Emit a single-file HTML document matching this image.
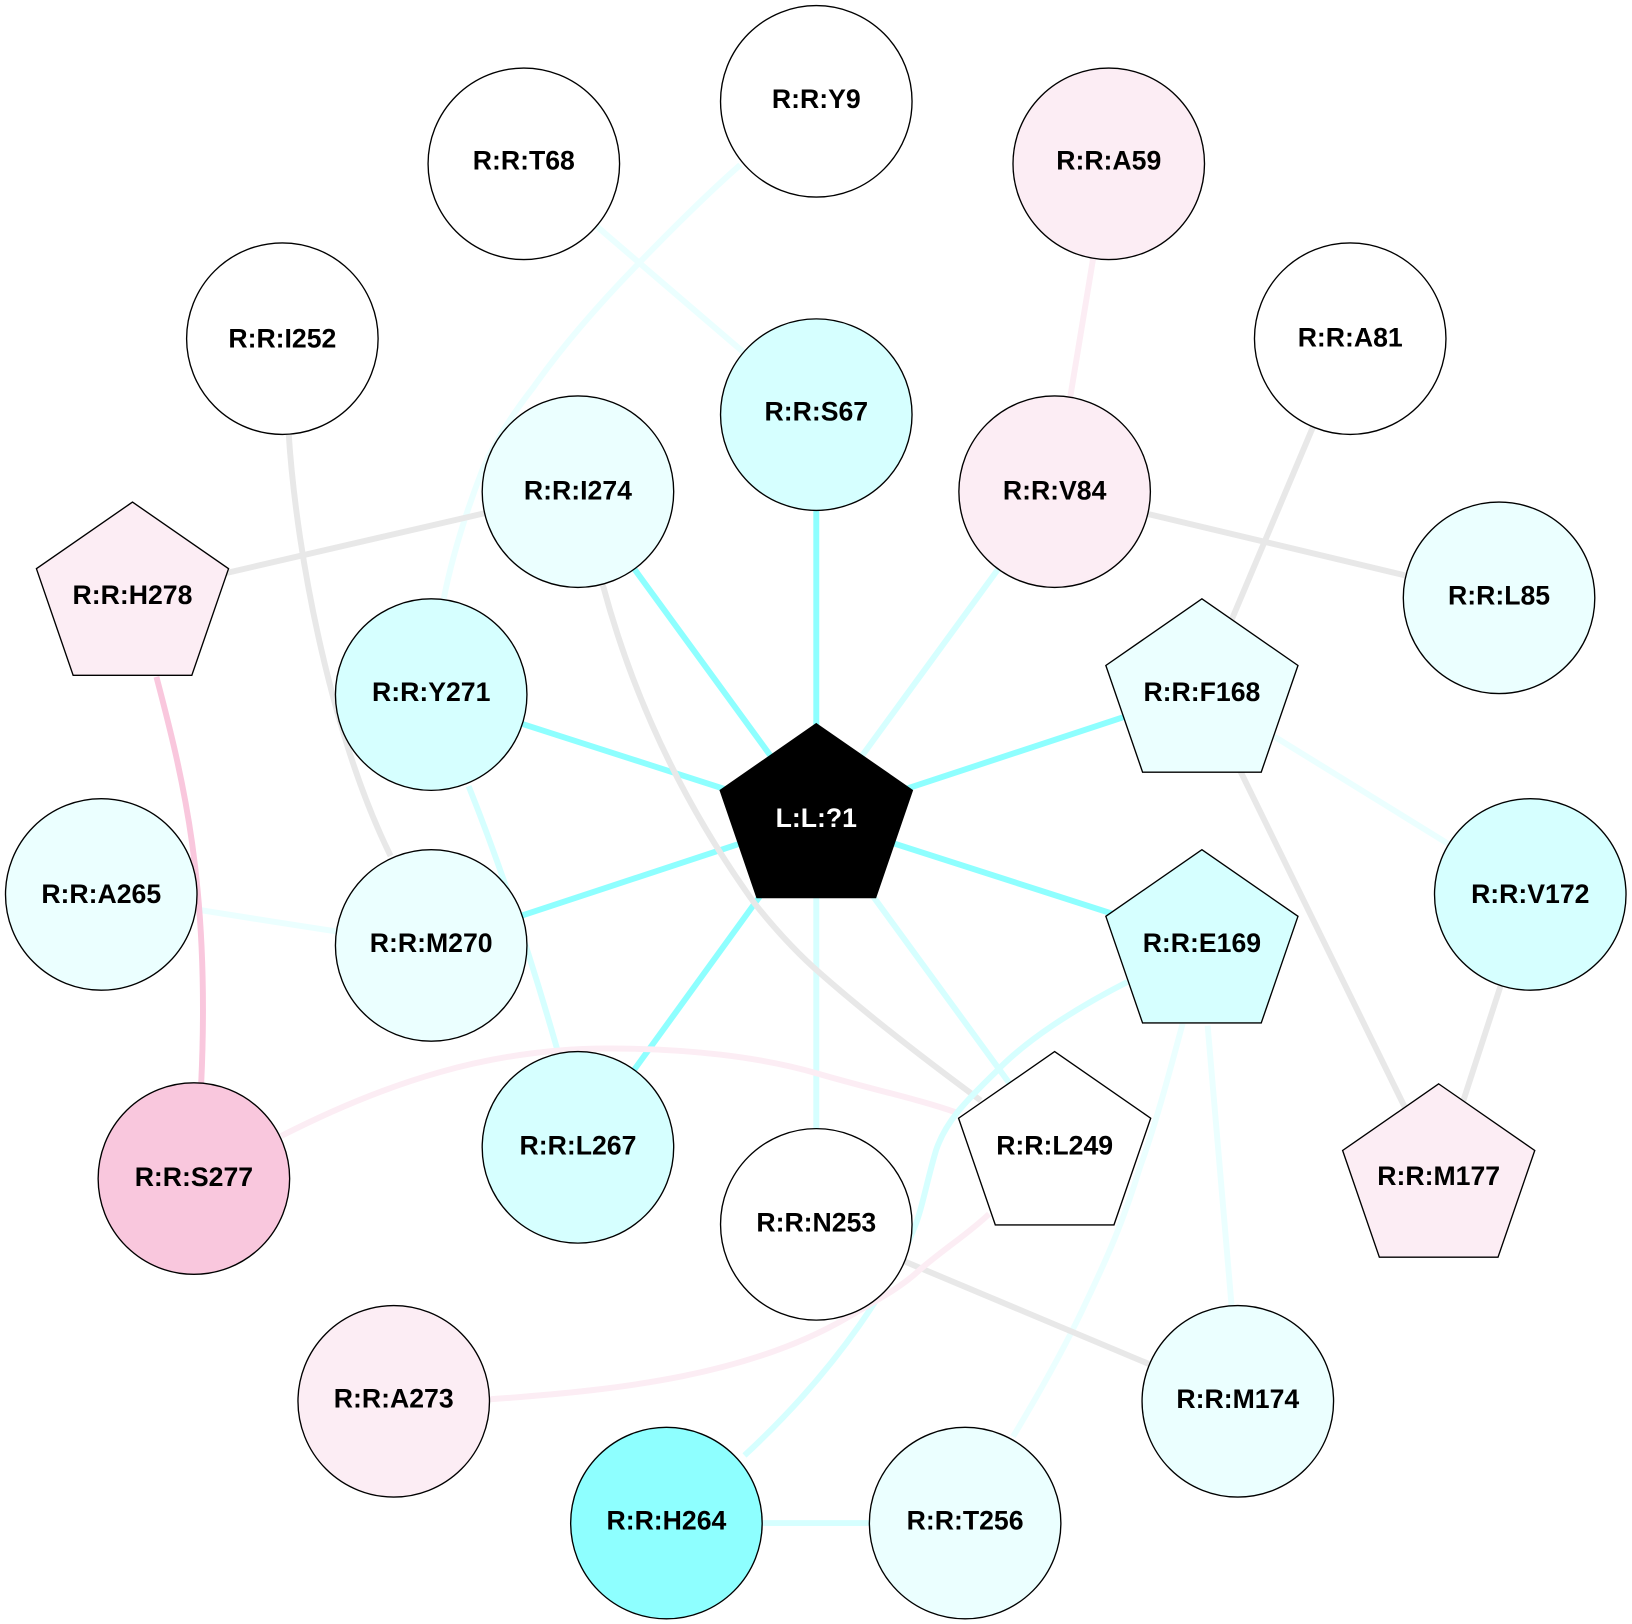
<!DOCTYPE html>
<html>
<head>
<meta charset="utf-8">
<style>
html,body{margin:0;padding:0;background:#fff;width:1632px;height:1624px;overflow:hidden}
svg{display:block}
text{font-family:"Liberation Sans",Arial,sans-serif;font-weight:bold;font-size:25.6px;text-anchor:middle;fill:#000}
.e{fill:none;stroke-width:5.7}
.s{stroke:#8effff}.l{stroke:#d6ffff}.v{stroke:#ebffff}.g{stroke:#e8e8e8}.p{stroke:#fcedf4}.k{stroke:#f9c7dd}
.n{stroke:#000;stroke-width:1.3}
</style>
</head>
<body>
<svg width="1632" height="1624" viewBox="0 0 1632 1624" xmlns="http://www.w3.org/2000/svg">
<rect width="1632" height="1624" fill="#fff"/>
<g transform="translate(0.3,0.4) scale(1.0408)">
<!-- edges -->
<path class="e s" d="M784,786L784,398"/>
<path class="e s" d="M784,786L555,472"/>
<path class="e s" d="M784,786L414,667"/>
<path class="e s" d="M784,786L414,908"/>
<path class="e s" d="M784,786L555,1102"/>
<path class="e s" d="M784,786L1154,905"/>
<path class="e s" d="M784,786L1154,664"/>
<path class="e l" d="M784,786L1013,472"/>
<path class="e l" d="M784,786L784,1176"/>
<path class="e l" d="M784,786L1013,1100"/>
<path class="e v" d="M503,157L784,398"/>
<path class="e v" d="M711,158 C680,185 645,220 613,253 C575,292 540,332 512,372 C490,400 475,425 464,449 C448,490 435,530 426,575"/>
<path class="e p" d="M1065,157L1013,472"/>
<path class="e g" d="M277,415 C285,540 320,710 375,822"/>
<path class="e g" d="M127,571L555,472"/>
<path class="e g" d="M579,562 C600,640 640,750 725,868 C745,893 765,915 788,935 C830,972 885,1015 942,1057"/>
<path class="e g" d="M1013,472L1440,574"/>
<path class="e g" d="M1297,325L1154,664"/>
<path class="e v" d="M1154,664L1470,859"/>
<path class="e g" d="M1154,664L1382,1130"/>
<path class="e g" d="M1470,859L1382,1130"/>
<path class="e l" d="M450,755 C480,830 510,920 536,1011"/>
<path class="e v" d="M97,859 C200,875 300,892 414,908"/>
<path class="e k" d="M150,650 C175,745 202,850 193,1041"/>
<path class="e p" d="M270,1091 C370,1040 470,1007 584,1007 C660,1007 730,1015 785,1031 C840,1047 880,1055 920,1069"/>
<path class="e l" d="M1083,943 C1030,970 985,1000 958,1028 C925,1060 908,1078 899,1105 C890,1135 885,1165 877,1182 C860,1225 810,1310 715,1398"/>
<path class="e v" d="M1136,983 C1122,1035 1110,1080 1095,1121 C1080,1170 1065,1205 1044,1249 C1025,1290 1000,1335 973,1380"/>
<path class="e v" d="M1160,985L1183,1254"/>
<path class="e g" d="M784,1176L1189,1346"/>
<path class="e p" d="M471,1344 C600,1335 720,1320 813,1266 C840,1250 865,1237 883,1220 C910,1197 930,1185 950,1166"/>
<path class="e l" d="M640,1463L927,1463"/>
<!-- circles -->
<g class="n">
<circle cx="784" cy="97" r="92" fill="#fff"/>
<circle cx="503" cy="157" r="92" fill="#fff"/>
<circle cx="1065" cy="157" r="92" fill="#fcedf4"/>
<circle cx="271" cy="325" r="92" fill="#fff"/>
<circle cx="1297" cy="325" r="92" fill="#fff"/>
<circle cx="784" cy="398" r="92" fill="#d6ffff"/>
<circle cx="555" cy="472" r="92" fill="#ebffff"/>
<circle cx="1013" cy="472" r="92" fill="#fcedf4"/>
<circle cx="1440" cy="574" r="92" fill="#ebffff"/>
<circle cx="414" cy="667" r="92" fill="#d6ffff"/>
<circle cx="97" cy="859" r="92" fill="#ebffff"/>
<circle cx="1470" cy="859" r="92" fill="#d6ffff"/>
<circle cx="414" cy="908" r="92" fill="#ebffff"/>
<circle cx="555" cy="1102" r="92" fill="#d6ffff"/>
<circle cx="784" cy="1176" r="92" fill="#fff"/>
<circle cx="186" cy="1132" r="92" fill="#f9c7dd"/>
<circle cx="378" cy="1346" r="92" fill="#fcedf4"/>
<circle cx="1189" cy="1346" r="92" fill="#ebffff"/>
<circle cx="640" cy="1463" r="92" fill="#8effff"/>
<circle cx="927" cy="1463" r="92" fill="#ebffff"/>
<!-- pentagons -->
<polygon points="784,695 876.3,759 841,862 727,862 691.7,759" fill="#000"/>
<polygon points="127,482 219.3,546 184,648.5 70,648.5 34.7,546" fill="#fcedf4"/>
<polygon points="1154.5,575 1246.8,639 1211.5,741.5 1097.5,741.5 1062.2,639" fill="#ebffff"/>
<polygon points="1154.5,816 1246.8,880 1211.5,982.5 1097.5,982.5 1062.2,880" fill="#d6ffff"/>
<polygon points="1013,1010 1105.3,1074 1070,1176.5 956,1176.5 920.7,1074" fill="#fff"/>
<polygon points="1382,1041 1474.3,1105 1439,1207.5 1325,1207.5 1289.7,1105" fill="#fcedf4"/>
</g>
<!-- labels -->
<text x="784" y="103.6">R:R:Y9</text>
<text x="503" y="162.6">R:R:T68</text>
<text x="1065" y="162.6">R:R:A59</text>
<text x="271" y="333.4">R:R:I252</text>
<text x="1297" y="332.4">R:R:A81</text>
<text x="784" y="403.6">R:R:S67</text>
<text x="555" y="479.4">R:R:I274</text>
<text x="1013" y="479.4">R:R:V84</text>
<text x="1440" y="580.4">R:R:L85</text>
<text x="127" y="580">R:R:H278</text>
<text x="414" y="673.2">R:R:Y271</text>
<text x="1154.5" y="673.2">R:R:F168</text>
<text x="784" y="794.2" style="fill:#fff">L:L:?1</text>
<text x="97" y="867">R:R:A265</text>
<text x="1470" y="867">R:R:V172</text>
<text x="414" y="914.2">R:R:M270</text>
<text x="1154.5" y="914.2">R:R:E169</text>
<text x="555" y="1109">R:R:L267</text>
<text x="1013" y="1109">R:R:L249</text>
<text x="186" y="1139">R:R:S277</text>
<text x="1382" y="1138.4">R:R:M177</text>
<text x="784" y="1183">R:R:N253</text>
<text x="378" y="1352">R:R:A273</text>
<text x="1189" y="1352.4">R:R:M174</text>
<text x="640" y="1469">R:R:H264</text>
<text x="927" y="1469">R:R:T256</text>
</g>
</svg>
</body>
</html>
